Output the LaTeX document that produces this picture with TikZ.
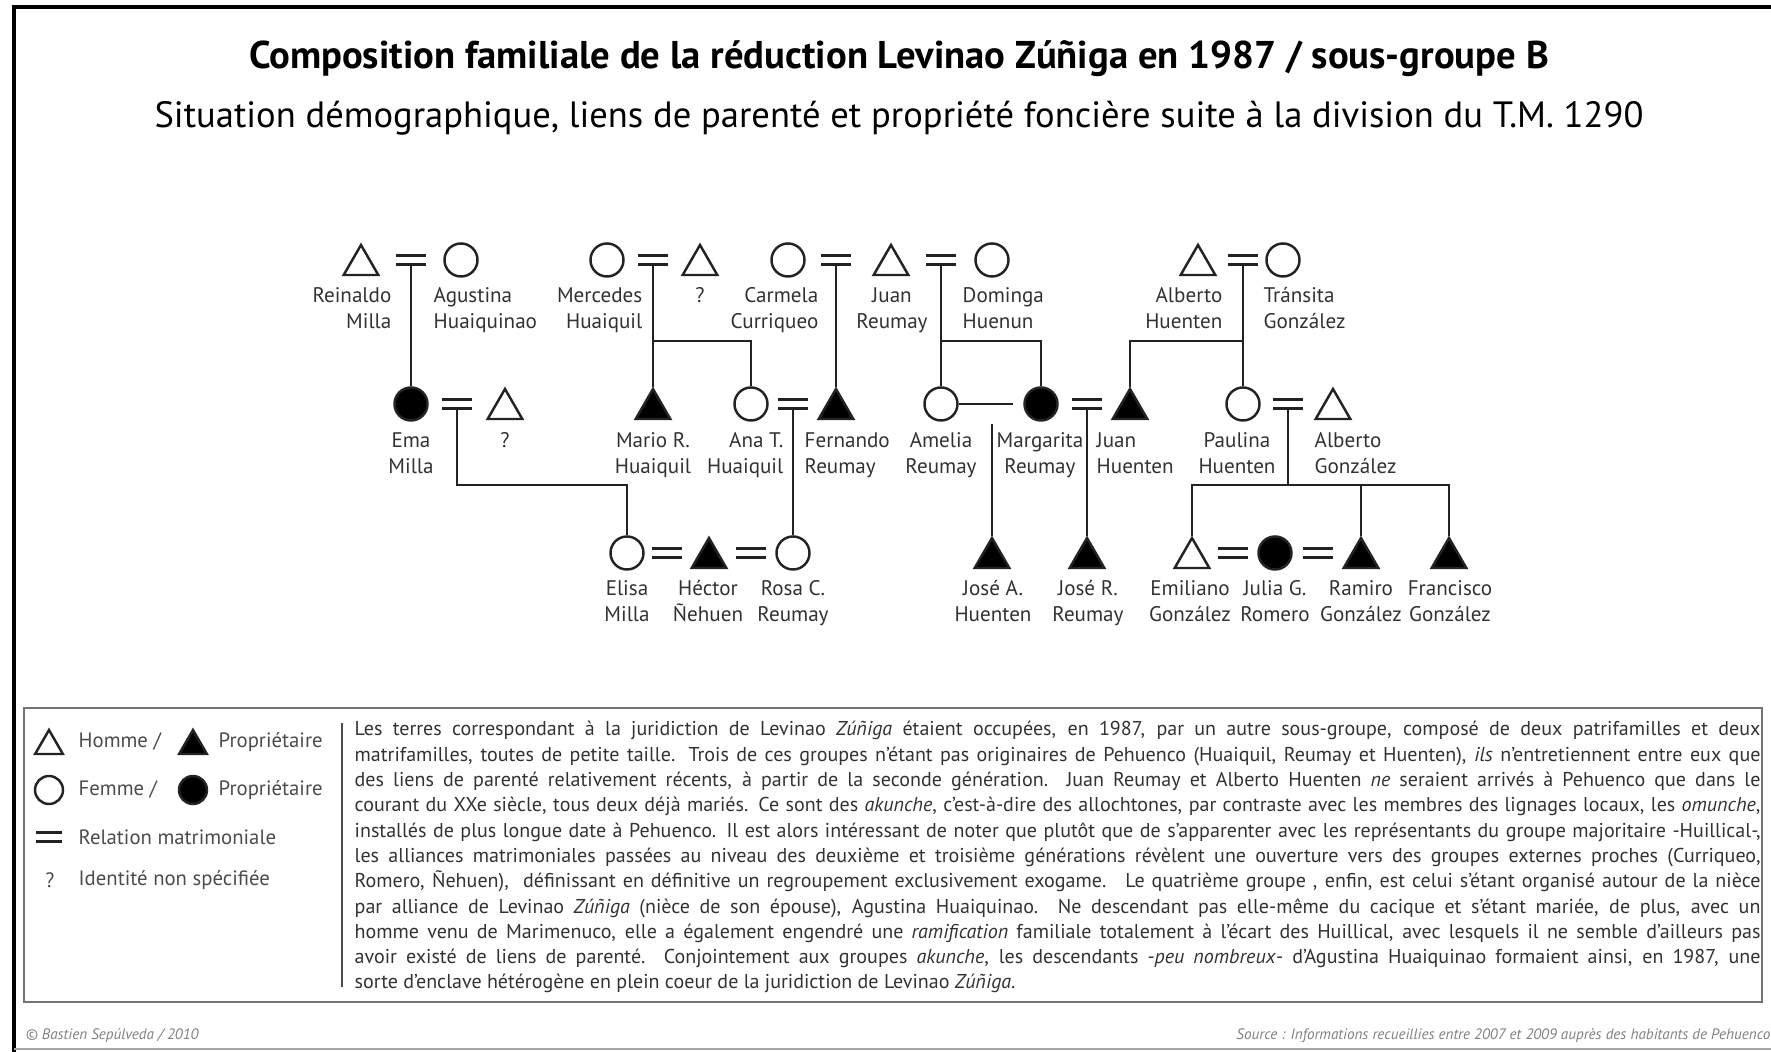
\documentclass[tikz,border=0pt]{standalone}
\usepackage{fontspec}
\setmainfont{PT Sans}
\setsansfont{PT Sans}
\usetikzlibrary{shapes.geometric}
\definecolor{ink}{RGB}{35,35,35}
\definecolor{txt}{RGB}{50,50,50}
\tikzset{
  man/.style={regular polygon, regular polygon sides=3, draw=ink, line width=0.7pt, inner sep=0pt, minimum size=#1, yshift=-#1/8},
  man/.default=0.40cm,
  woman/.style={circle, draw=ink, line width=0.7pt, inner sep=0pt, minimum size=#1},
  woman/.default=0.33cm,
  own/.style={fill=black},
  wed/.style={inner sep=0pt, minimum width=#1, minimum height=0.075cm,
    append after command={(\tikzlastnode.north west) edge[bar] (\tikzlastnode.north east)
                          (\tikzlastnode.south west) edge[bar] (\tikzlastnode.south east)}},
  wed/.default=0.28cm,
  bar/.style={draw=ink, line width=0.85pt},
  kin/.style={draw=ink, line width=0.55pt},
  nm/.style={font=\fontsize{6}{7.4}\selectfont, text=txt, inner sep=0pt},
  key/.style={font=\fontsize{5.9}{7}\selectfont, text=black!70, inner sep=0pt, anchor=west},
  para/.style={font=\fontsize{5.7}{7.2}\selectfont, text=txt, inner sep=0pt, align=left},
  foot/.style={font=\fontsize{4.3}{5}\selectfont\itshape, text=black!50, inner sep=0pt}
}
\newcommand{\pl}[1]{\makebox[14.05cm][s]{#1}}

\begin{document}
\begin{tikzpicture}[x=0.01cm, y=-0.01cm]
  \useasboundingbox (0,0) rectangle (1771,1052);
  % frame
  \draw[line width=1.2pt] (14,1052) -- (14,7) -- (1771,7);
  \draw[black!35, line width=0.6pt] (14,1049) -- (1771,1049);

  \node[font=\fontsize{11}{13}\selectfont\bfseries, anchor=base] (title) at (899,69) {Composition familiale de la réduction Levinao Zúñiga en 1987 / sous-groupe B};
  \node[font=\fontsize{10.4}{12}\selectfont, anchor=base] (sub) at (899,128) {Situation démographique, liens de parenté et propriété foncière suite à la division du T.M. 1290};

  % first generation
  \node[man] (rei) at (361,260) {};
  \node[wed] (w1) at (411,260) {};
  \node[woman] (agu) at (461,260) {};
  \node[woman] (mer) at (607,260) {};
  \node[wed] (w2) at (653,260) {};
  \node[man] (unk1) at (700,260) {};
  \node[woman] (car) at (788,260) {};
  \node[wed] (w3) at (836,260) {};
  \node[man] (jre) at (891,260) {};
  \node[wed] (w4) at (941,260) {};
  \node[woman] (dom) at (992,260) {};
  \node[man] (ahu) at (1198,260) {};
  \node[wed] (w5) at (1243,260) {};
  \node[woman] (tra) at (1283,260) {};

  \node[nm, align=right, anchor=base east] (l-rei) at (392,329) {Reinaldo\\Milla};
  \node[nm, align=left, anchor=base west] (l-agu) at (433,329) {Agustina\\Huaiquinao};
  \node[nm, align=right, anchor=base east] (l-mer) at (643,329) {Mercedes\\Huaiquil};
  \node[nm, anchor=base] (l-unk1) at (700,303) {?};
  \node[nm, align=right, anchor=base east] (l-car) at (819,329) {Carmela\\Curriqueo};
  \node[nm, align=center, anchor=base] (l-jre) at (892,329) {Juan\\Reumay};
  \node[nm, align=left, anchor=base west] (l-dom) at (962,329) {Dominga\\Huenun};
  \node[nm, align=right, anchor=base east] (l-ahu) at (1223,329) {Alberto\\Huenten};
  \node[nm, align=left, anchor=base west] (l-tra) at (1263,329) {Tránsita\\González};

  % second generation
  \node[woman, own] (ema) at (411,404) {};
  \node[wed] (w6) at (457,404) {};
  \node[man] (unk2) at (505,404) {};
  \node[man, own] (mrh) at (653,404) {};
  \node[woman] (ana) at (751,404) {};
  \node[wed] (w7) at (793,404) {};
  \node[man, own] (fer) at (836,404) {};
  \node[woman] (ame) at (941,404) {};
  \node[woman, own] (mgr) at (1041,404) {};
  \node[wed] (w8) at (1087,404) {};
  \node[man, own] (jhu) at (1130,404) {};
  \node[woman] (pau) at (1243,404) {};
  \node[wed] (w9) at (1288,404) {};
  \node[man] (agz) at (1333,404) {};

  \node[nm, align=center, anchor=base] (l-ema) at (411,474) {Ema\\Milla};
  \node[nm, anchor=base] (l-unk2) at (505,448) {?};
  \node[nm, align=center, anchor=base] (l-mrh) at (653,474) {Mario R.\\Huaiquil};
  \node[nm, align=right, anchor=base east] (l-ana) at (784,474) {Ana T.\\Huaiquil};
  \node[nm, align=left, anchor=base west] (l-fer) at (804,474) {Fernando\\Reumay};
  \node[nm, align=center, anchor=base] (l-ame) at (941,474) {Amelia\\Reumay};
  \node[nm, align=center, anchor=base] (l-mgr) at (1040,474) {Margarita\\Reumay};
  \node[nm, align=left, anchor=base west] (l-jhu) at (1096,474) {Juan\\Huenten};
  \node[nm, align=center, anchor=base] (l-pau) at (1237,474) {Paulina\\Huenten};
  \node[nm, align=left, anchor=base west] (l-agz) at (1314,474) {Alberto\\González};

  % third generation
  \node[woman] (eli) at (627,553) {};
  \node[wed] (w10) at (667,553) {};
  \node[man, own] (hec) at (709,553) {};
  \node[wed] (w11) at (751,553) {};
  \node[woman] (ros) at (793,553) {};
  \node[man, own] (jsa) at (992,553) {};
  \node[man, own] (jsr) at (1087,553) {};
  \node[man] (emi) at (1192,553) {};
  \node[wed] (w12) at (1233,553) {};
  \node[woman, own] (jul) at (1275,553) {};
  \node[wed] (w13) at (1318,553) {};
  \node[man, own] (ram) at (1361,553) {};
  \node[man, own] (fra) at (1449,553) {};

  \node[nm, align=center, anchor=base] (l-eli) at (627,622) {Elisa\\Milla};
  \node[nm, align=center, anchor=base] (l-hec) at (708,622) {Héctor\\Ñehuen};
  \node[nm, align=center, anchor=base] (l-ros) at (793,622) {Rosa C.\\Reumay};
  \node[nm, align=center, anchor=base] (l-jsa) at (993,622) {José A.\\Huenten};
  \node[nm, align=center, anchor=base] (l-jsr) at (1088,622) {José R.\\Reumay};
  \node[nm, align=center, anchor=base] (l-emi) at (1190,622) {Emiliano\\González};
  \node[nm, align=center, anchor=base] (l-jul) at (1275,622) {Julia G.\\Romero};
  \node[nm, align=center, anchor=base] (l-ram) at (1361,622) {Ramiro\\González};
  \node[nm, align=center, anchor=base] (l-fra) at (1450,622) {Francisco\\González};

  % descent
  \coordinate (s2) at (653,341);
  \coordinate (s4) at (941,341);
  \coordinate (s5) at (1243,341);
  \coordinate (s6) at (457,485);
  \coordinate (s8) at (992,424);
  \coordinate (s9) at (1288,485);
  \draw[kin] (w1) -- (ema);
  \draw[kin] (w2) -- (mrh);
  \draw[kin] (s2) -| (ana);
  \draw[kin] (w3) -- (fer);
  \draw[kin] (w4) -- (ame);
  \draw[kin] (s4) -| (mgr);
  \draw[kin] (w5) -- (pau);
  \draw[kin] (s5) -| (jhu);
  \draw[kin] (w6) -- (s6) -| (eli);
  \draw[kin] (w7) -- (ros);
  \draw[kin, shorten >=0.1cm] (ame) -- (mgr);
  \draw[kin] (s8) -- (jsa);
  \draw[kin] (w8) -- (jsr);
  \draw[kin] (w9) -- (s9);
  \draw[kin] (emi) |- (s9) -| (fra);
  \draw[kin] (ram) -- (ram |- s9);

  % legend box
  \draw[black!55, line width=0.7pt] (24,708) rectangle (1762,1002);
  \draw[black!70, line width=0.5pt] (342,723) -- (342,987);
  \node[man=0.32cm] (k-man) at (49,742) {};
  \node[key] (k-homme) at (78,742) {Homme /};
  \node[man=0.32cm, own] (k-mano) at (193,742) {};
  \node[key] (k-p1) at (218,742) {Propriétaire};
  \node[woman=0.28cm] (k-wom) at (49,790) {};
  \node[key] (k-femme) at (78,790) {Femme /};
  \node[woman=0.28cm, own] (k-womo) at (193,790) {};
  \node[key] (k-p2) at (218,790) {Propriétaire};
  \node[wed=0.24cm] (k-wed) at (49,837) {};
  \node[key] (k-rel) at (78,837) {Relation matrimoniale};
  \node[key, anchor=center] (k-q) at (50,880) {?};
  \node[key] (k-id) at (78,880) {Identité non spécifiée};

  \node[para, anchor=base west] (txt) at (354,989) {%
    \pl{Les terres correspondant à la juridiction de Levinao \textit{Zúñiga} étaient occupées, en 1987, par un autre sous-groupe, composé de deux patrifamilles et deux}\\
    \pl{matrifamilles, toutes de petite taille. Trois de ces groupes n'étant pas originaires de Pehuenco (Huaiquil, Reumay et Huenten), \textit{ils} n'entretiennent entre eux que}\\
    \pl{des liens de parenté relativement récents, à partir de la seconde génération. Juan Reumay et Alberto Huenten \textit{ne} seraient arrivés à Pehuenco que dans le}\\
    \pl{courant du XXe siècle, tous deux déjà mariés. Ce sont des \textit{akunche}, c'est-à-dire des allochtones, par contraste avec les membres des lignages locaux, les \textit{omunche},}\\
    \pl{installés de plus longue date à Pehuenco. Il est alors intéressant de noter que plutôt que de s'apparenter avec les représentants du groupe majoritaire -Huillical-,}\\
    \pl{les alliances matrimoniales passées au niveau des deuxième et troisième générations révèlent une ouverture vers des groupes externes proches (Curriqueo,}\\
    \pl{Romero, Ñehuen), \ définissant en définitive un regroupement exclusivement exogame. \ Le quatrième groupe , enfin, est celui s'étant organisé autour de la nièce}\\
    \pl{par alliance de Levinao \textit{Zúñiga} (nièce de son épouse), Agustina Huaiquinao. Ne descendant pas elle-même du cacique et s'étant mariée, de plus, avec un}\\
    \pl{homme venu de Marimenuco, elle a également engendré une \textit{ramification} familiale totalement à l'écart des Huillical, avec lesquels il ne semble d'ailleurs pas}\\
    \pl{avoir existé de liens de parenté. Conjointement aux groupes \textit{akunche}, les descendants -\textit{peu nombreux}- d'Agustina Huaiquinao formaient ainsi, en 1987, une}\\
    sorte d'enclave hétérogène en plein coeur de la juridiction de Levinao \textit{Zúñiga}.};

  \node[foot, anchor=base west] (copy) at (25,1040) {© Bastien Sepúlveda / 2010};
  \node[foot, anchor=base east] (src) at (1771,1040) {Source : Informations recueillies entre 2007 et 2009 auprès des habitants de Pehuenco};
\end{tikzpicture}
\end{document}
